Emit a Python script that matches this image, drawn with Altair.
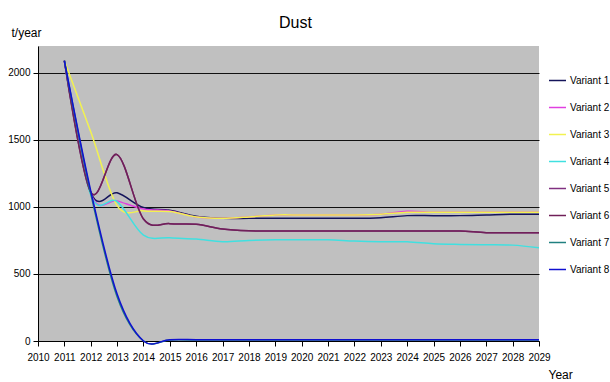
import altair as alt
import pandas as pd

# Annual dust emissions (t/year) for eight scenario variants
years = list(range(2011, 2030))
tick_years = list(range(2010, 2030))
y_ticks = [0, 500, 1000, 1500, 2000]

variants = [f"Variant {i}" for i in range(1, 9)]

variant_1 = [2090, 1110, 1105, 995, 975, 930, 915, 915, 915, 915, 915, 915, 920, 935, 935, 935, 940, 945, 945]
variant_2 = [2090, 1100, 1045, 985, 970, 925, 915, 925, 940, 940, 940, 940, 945, 968, 960, 960, 960, 960, 960]
variant_3 = [2090, 1560, 1010, 970, 965, 925, 915, 925, 940, 940, 940, 940, 945, 960, 960, 960, 960, 960, 960]
variant_4 = [2090, 1090, 1040, 790, 770, 760, 740, 750, 755, 755, 755, 745, 740, 740, 725, 720, 718, 715, 695]
variant_5 = [2090, 1110, 1390, 910, 875, 870, 835, 822, 820, 820, 820, 820, 820, 820, 820, 820, 808, 808, 808]
variant_6 = [2090, 1110, 1390, 910, 875, 870, 835, 822, 820, 820, 820, 820, 820, 820, 820, 820, 808, 808, 808]
variant_7 = [2090, 1100, 330, 0, 8, 8, 8, 8, 8, 8, 8, 8, 8, 8, 8, 8, 8, 8, 8]
variant_8 = [2090, 1120, 350, 0, 10, 10, 10, 10, 10, 10, 10, 10, 10, 10, 10, 10, 10, 10, 10]

series = [variant_1, variant_2, variant_3, variant_4,
          variant_5, variant_6, variant_7, variant_8]

colors = ["#14145a", "#e040e0", "#f2f250", "#40e0e0",
          "#803080", "#702058", "#208080", "#1010d0"]
widths = [1.5, 1.5, 2, 2, 1.8, 1.0, 1.5, 3]

rows = []
for name, values in zip(variants, series):
    for yr, val in zip(years, values):
        rows.append({"Year": yr, "Value": val, "Series": name})
df = pd.DataFrame(rows)

FONT = "Liberation Sans, Arial, sans-serif"

legend = alt.Legend(
    title=None, orient="none", legendX=510, legendY=25,
    symbolType="stroke", symbolSize=289, labelFont=FONT, labelFontSize=10,
    labelColor="black", labelOffset=3, rowPadding=12, padding=0,
)

chart = alt.Chart(df).mark_line(interpolate="cardinal", clip=False).encode(
    x=alt.X(
        "Year:Q",
        scale=alt.Scale(domain=[2010, 2029], nice=False, zero=False),
        axis=alt.Axis(
            values=tick_years, format="d", title="Year", grid=False,
            tickSize=5, labelPadding=6, labelOverlap=False, labelFlush=False,
            titleX=510, titleY=37, titleAlign="left", titleBaseline="alphabetic",
        ),
    ),
    y=alt.Y(
        "Value:Q",
        scale=alt.Scale(domain=[0, 2200], nice=False),
        axis=alt.Axis(
            values=y_ticks, format="d", title="t/year", grid=True,
            tickSize=5, labelPadding=3,
            titleAngle=0, titleX=-27, titleY=-10, titleAlign="left",
            titleBaseline="alphabetic",
        ),
    ),
    color=alt.Color("Series:N", scale=alt.Scale(domain=variants, range=colors), legend=legend),
    strokeWidth=alt.StrokeWidth("Series:N", scale=alt.Scale(domain=variants, range=widths), legend=legend),
).properties(
    width=501,
    height=295,
    title=alt.TitleParams(
        "Dust", font=FONT, fontSize=16, fontWeight="normal", color="black",
        anchor="middle", dx=7, offset=20, dy=25,
    ),
    autosize=alt.AutoSizeParams(type="none"),
    padding={"left": 38, "top": 46, "right": 71, "bottom": 41},
    background="white",
).configure_view(
    fill="#c0c0c0", stroke=None,
).configure_axis(
    labelFont=FONT, labelFontSize=10, labelColor="black",
    titleFont=FONT, titleFontSize=12, titleFontWeight="normal", titleColor="black",
    domainColor="black", tickColor="black", gridColor="#111111", gridWidth=1.2,
)

chart.save("out.html", embed_options={"renderer": "svg", "actions": False})
